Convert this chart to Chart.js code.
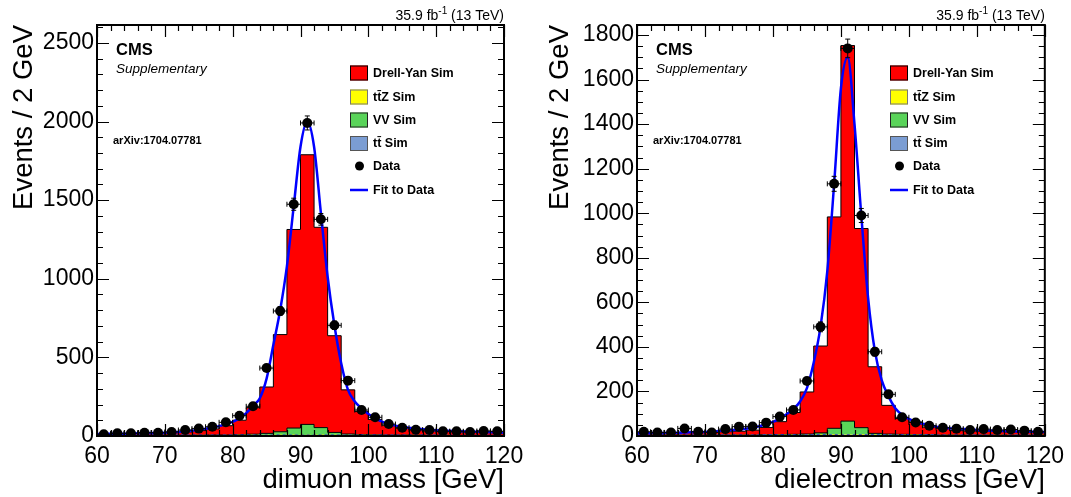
<!DOCTYPE html>
<html>
<head>
<meta charset="utf-8">
<script src="https://cdn.jsdelivr.net/npm/chart.js@4.4.1/dist/chart.umd.min.js"></script>
<style>
  html, body { margin: 0; padding: 0; background: #fff; }
  #wrap { position: relative; width: 1071px; height: 497px; }
  canvas { position: absolute; top: 0; }
</style>
</head>
<body>
<div id="wrap">
  <canvas id="mumu" width="536" height="497" style="left:0px"></canvas>
  <canvas id="ee" width="535" height="497" style="left:536px"></canvas>
</div>
<script>
// bins: 2 GeV from 60 to 120
const binLow = [60,62,64,66,68,70,72,74,76,78,80,82,84,86,88,90,92,94,96,98,100,102,104,106,108,110,112,114,116,118];
const binMid = [61,63,65,67,69,71,73,75,77,79,81,83,85,87,89,91,93,95,97,99,101,103,105,107,109,111,113,115,117,119];
const xTicks = [60,70,80,90,100,110,120];
const mumuYTicks = [0,500,1000,1500,2000,2500];
const eeYTicks = [0,200,400,600,800,1000,1200,1400,1600,1800];

// dimuon
const mumuData = [11,17,17,21,21,26,38,47,59,87,129,189,432,795,1474,1991,1378,704,352,165,119,76,53,40,38,30,30,26,32,30];
const mumuDY   = [11,12,13,14,15,17,21,29,39,59,92,169,295,618,1263,1715,1274,615,281,146,98,62,44,32,27,23,22,21,20,18];
const mumuVV   = [1,1,1,1,1,1,1,1,2,2,3,6,11,21,44,67,47,17,7,4,3,2,2,2,1,1,1,1,1,1];
const mumuTTZ  = [0.2,0.2,0.2,0.2,0.2,0.3,0.3,0.3,0.3,0.4,0.4,0.5,0.7,1.0,1.5,1.8,1.4,0.8,0.5,0.4,0.4,0.3,0.3,0.3,0.3,0.2,0.2,0.2,0.2,0.2];
const mumuTT   = [3,3,3,3,4,4,4,4,4,4,5,5,5,5,5,5,5,5,5,5,4,4,4,4,4,4,3,3,3,3];

// dielectron
const eeData = [19,16,16,34,19,16,31,42,43,60,87,117,247,490,1132,1740,990,378,187,84,61,46,37,33,27,31,27,29,24,19];
const eeDY   = [10,11,11,12,13,14,15,17,22,33,58,98,189,390,949,1686,894,299,129,71,57,34,29,20,18,17,16,14,14,13];
const eeVV   = [1,1,1,1,1,1,1,1,1,1,2,3,4,9,29,61,32,7,4,3,2,2,1,1,1,1,1,1,1,1];
const eeTTZ  = [0.2,0.2,0.2,0.2,0.2,0.3,0.3,0.3,0.3,0.4,0.4,0.5,0.7,1.0,1.5,1.8,1.4,0.8,0.5,0.4,0.4,0.3,0.3,0.3,0.3,0.2,0.2,0.2,0.2,0.2];
const eeTT   = [3,3,3,3,3,3,3,3,3,4,4,4,4,4,4,4,4,4,4,4,4,4,3,3,3,3,3,3,3,3];

// fit curves
const fitMass = [60,62,64,66,68,70,72,74,76,78,80,81,82,83,84,85,86,87,88,89,90,91,92,93,94,95,96,97,98,99,100,101,102,103,104,105,107,110,115,120];
const mumuFit = [12,14,15,17,19,21,26,34,47,63,90,112,145,192,240,365,580,800,1080,1460,1840,2000,1840,1420,1013,704,462,293,220,176,140,112,92,76,66,59,47,36,28,21];
const eeFit   = [12,13,14,15,17,18,22,27,33,44,63,79,98,121,155,215,330,490,740,1130,1560,1700,1400,990,620,381,251,178,125,95,77,64,55,49,42,37,33,27,21,18];

const FONT = '"Liberation Sans", Arial, Helvetica, sans-serif';
const RED = '#ff0000', YELLOW = '#ffff00', GREEN = '#59d459', TTBLUE = '#7b9dd3';

// frame, inner ticks, error bars, texts and legend
const decorations = {
  id: 'decorations',
  afterDatasetsDraw(chart, args, opts) {
    const { ctx, scales: { x, y } } = chart;
    const pts = chart.data.datasets[4].data;
    ctx.save();
    ctx.strokeStyle = '#000';
    ctx.lineWidth = 1;
    pts.forEach(p => {
      const px = x.getPixelForValue(p.x), py = y.getPixelForValue(p.y);
      const x1 = x.getPixelForValue(p.x - 1), x2 = x.getPixelForValue(p.x + 1);
      const e = Math.sqrt(p.y);
      const y1 = y.getPixelForValue(p.y - e), y2 = y.getPixelForValue(p.y + e);
      ctx.beginPath();
      ctx.moveTo(x1, py); ctx.lineTo(x2, py);
      ctx.moveTo(x1, py - 2.5); ctx.lineTo(x1, py + 2.5);
      ctx.moveTo(x2, py - 2.5); ctx.lineTo(x2, py + 2.5);
      ctx.moveTo(px, y1); ctx.lineTo(px, y2);
      ctx.moveTo(px - 2.5, y1); ctx.lineTo(px + 2.5, y1);
      ctx.moveTo(px - 2.5, y2); ctx.lineTo(px + 2.5, y2);
      ctx.stroke();
    });
    ctx.restore();
  },
  afterDraw(chart, args, opts) {
    const { ctx, chartArea: a, scales: { x, y } } = chart;
    ctx.save();
    ctx.strokeStyle = '#000';
    ctx.lineWidth = 1.2;
    ctx.beginPath();
    for (let v = 60; v <= 120; v += 2) {
      const px = Math.round(x.getPixelForValue(v)) + 0.5;
      const len = v % 10 === 0 ? 12 : 6;
      ctx.moveTo(px, a.bottom); ctx.lineTo(px, a.bottom - len);
      ctx.moveTo(px, a.top); ctx.lineTo(px, a.top + len);
    }
    for (let v = 0; v <= opts.ymax; v += opts.yMinor) {
      const py = Math.round(y.getPixelForValue(v)) + 0.5;
      const len = v % opts.yMajor === 0 ? 12 : 6;
      ctx.moveTo(a.left, py); ctx.lineTo(a.left + len, py);
      ctx.moveTo(a.right, py); ctx.lineTo(a.right - len, py);
    }
    ctx.stroke();
    ctx.lineWidth = 2;
    ctx.strokeRect(a.left, a.top, a.right - a.left, a.bottom - a.top);

    // luminosity label
    ctx.fillStyle = '#000';
    ctx.textBaseline = 'alphabetic';
    const f1 = '14px ' + FONT, f2 = '10px ' + FONT;
    ctx.font = f1; const w1 = ctx.measureText('35.9 fb').width; const w3 = ctx.measureText(' (13 TeV)').width;
    ctx.font = f2; const w2 = ctx.measureText('-1').width;
    let tx = a.right - (w1 + w2 + w3);
    ctx.font = f1; ctx.fillText('35.9 fb', tx, 20);
    ctx.font = f2; ctx.fillText('-1', tx + w1, 14);
    ctx.font = f1; ctx.fillText(' (13 TeV)', tx + w1 + w2, 20);

    const L = a.left;
    ctx.font = 'bold 16.5px ' + FONT; ctx.fillText('CMS', L + 19, 55);
    ctx.font = 'italic 13.5px ' + FONT; ctx.fillText('Supplementary', L + 19, 73);
    ctx.font = 'bold 11px ' + FONT; ctx.fillText('arXiv:1704.07781', L + 16, 144);

    // legend
    const bx = L + 253, tX = L + 276;
    const rows = [
      { t: 'Drell-Yan Sim', c: RED, s: '#000', y: 73 },
      { t: 'tt\u0304Z Sim', c: YELLOW, s: '#777', y: 97 },
      { t: 'VV Sim', c: GREEN, s: '#222', y: 120 },
      { t: 'tt\u0304 Sim', c: TTBLUE, s: '#555', y: 143.5 }
    ];
    ctx.font = 'bold 12.5px ' + FONT;
    ctx.textBaseline = 'middle';
    rows.forEach(r => {
      ctx.fillStyle = r.c; ctx.fillRect(bx, r.y - 7.5, 18, 15);
      ctx.strokeStyle = r.s; ctx.lineWidth = 1; ctx.strokeRect(bx + 0.5, r.y - 7, 17, 14);
      ctx.fillStyle = '#000'; ctx.fillText(r.t, tX, r.y + 0.5);
    });
    ctx.beginPath(); ctx.arc(bx + 9.5, 166, 4.5, 0, Math.PI * 2); ctx.fill();
    ctx.fillText('Data', tX, 166.5);
    ctx.strokeStyle = '#0000ff'; ctx.lineWidth = 2.5;
    ctx.beginPath(); ctx.moveTo(bx, 190); ctx.lineTo(bx + 18, 190); ctx.stroke();
    ctx.fillText('Fit to Data', tX, 190.5);
    ctx.restore();
  }
};

function hist(vals) {
  const pts = binLow.map((x, i) => ({ x: x, y: vals[i] }));
  pts.push({ x: 120, y: vals[vals.length - 1] });
  return pts;
}

function makePanel(id, p) {
  const histStyle = { stepped: true, pointRadius: 0, stack: 'mc', tension: 0 };
  new Chart(document.getElementById(id), {
    type: 'line',
    data: {
      datasets: [
        Object.assign({ label: 'tt', data: hist(p.tt), order: 2, fill: 'origin', backgroundColor: TTBLUE,
          borderColor: '#1f2fd8', borderWidth: 1.5, borderDash: [3, 3] }, histStyle),
        Object.assign({ label: 'ttZ', data: hist(p.ttz), order: 3, fill: '-1', backgroundColor: YELLOW,
          borderColor: '#e0e000', borderWidth: 1, borderDash: [4, 3] }, histStyle),
        Object.assign({ label: 'VV', data: hist(p.vv), order: 4, fill: '-1', backgroundColor: GREEN,
          borderColor: '#000', borderWidth: 1 }, histStyle),
        Object.assign({ label: 'DY', data: hist(p.dy), order: 5, fill: '-1', backgroundColor: RED,
          borderColor: '#000', borderWidth: 1 }, histStyle),
        { label: 'Data', data: binMid.map((x, i) => ({ x: x, y: p.data[i] })), stack: 'data', order: 0,
          showLine: false, pointRadius: 5, pointBackgroundColor: '#000', pointBorderWidth: 0, borderColor: '#000' },
        { label: 'Fit', data: fitMass.map((x, i) => ({ x: x, y: p.fit[i] })), stack: 'fit', order: 1,
          borderColor: '#0000ff', borderWidth: 2.5, pointRadius: 0, cubicInterpolationMode: 'monotone', fill: false }
      ]
    },
    options: {
      responsive: false,
      animation: false,
      events: [],
      layout: { padding: { top: 25, right: p.padRight, left: 0, bottom: 0 } },
      plugins: {
        legend: { display: false },
        tooltip: { enabled: false },
        decorations: { ymax: p.ymax, yMinor: p.yMinor, yMajor: p.yMajor }
      },
      scales: {
        x: {
          type: 'linear', min: 60, max: 120,
          grid: { display: false, drawTicks: false },
          border: { display: false },
          afterBuildTicks(s) { s.ticks = xTicks.map(v => ({ value: v })); },
          ticks: { color: '#000', font: { family: FONT, size: 23 }, padding: 7, maxRotation: 0, autoSkip: false,
            callback: v => String(v) },
          title: { display: true, text: p.xTitle, align: 'end', color: '#000', font: { family: FONT, size: 27.5 }, padding: { top: 0, bottom: 0 } },
          afterFit(s) { s.height = 61; }
        },
        y: {
          stacked: true, min: 0, max: p.ymax,
          grid: { display: false, drawTicks: false },
          border: { display: false },
          afterBuildTicks(s) { s.ticks = p.yTicks.map(v => ({ value: v })); },
          ticks: { color: '#000', font: { family: FONT, size: 23 }, padding: 3, autoSkip: false,
            callback: v => String(v) },
          title: { display: true, text: 'Events / 2 GeV', align: 'end', color: '#000', font: { family: FONT, size: 27.5 }, padding: { top: 8, bottom: 0 } },
          afterFit(s) { s.width = p.leftW; }
        }
      }
    },
    plugins: [decorations]
  });
}

makePanel('mumu', { data: mumuData, dy: mumuDY, vv: mumuVV, ttz: mumuTTZ, tt: mumuTT, fit: mumuFit, yTicks: mumuYTicks,
  ymax: 2614, yMajor: 500, yMinor: 100, xTitle: 'dimuon mass [GeV]', leftW: 97, padRight: 32 });
makePanel('ee', { data: eeData, dy: eeDY, vv: eeVV, ttz: eeTTZ, tt: eeTT, fit: eeFit, yTicks: eeYTicks,
  ymax: 1845, yMajor: 200, yMinor: 50, xTitle: 'dielectron mass [GeV]', leftW: 101, padRight: 26 });
</script>
</body>
</html>
